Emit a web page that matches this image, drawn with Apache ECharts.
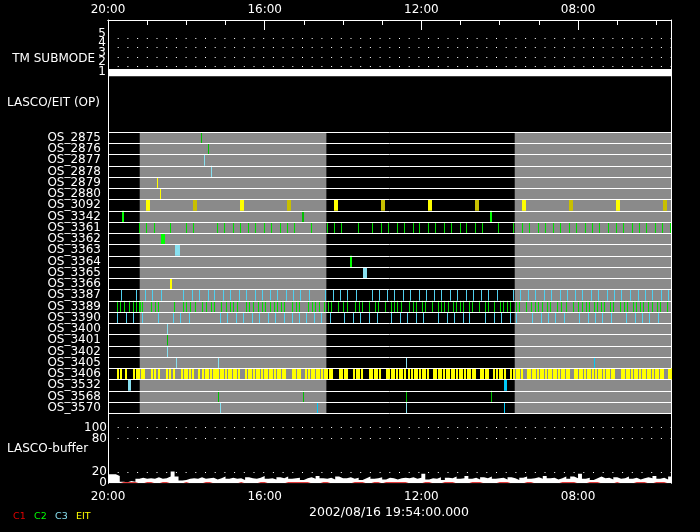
<!DOCTYPE html>
<html>
<head>
<meta charset="utf-8">
<script src="https://cdn.jsdelivr.net/npm/echarts@6.0.0/dist/echarts.min.js"></script>
<style>
html,body{margin:0;padding:0;background:#000;}
#chart{width:700px;height:532px;}
</style>
</head>
<body>
<div id="chart"></div>
<script>
// ---------- DATA (time = minutes before 2002/08/16 20:00, increasing to the right) ----------
const X_MAX = 862.4;
const MAJOR_STEP = 240;   // 4 h between labelled ticks
const MINOR_STEP = 60;    // 1 h minor ticks
const TM_LEVELS_ODD = [1, 3, 5];
const TM_LEVELS_EVEN = [2, 4];
const TM_SUBMODE = [[0, 862.4, 1]];   // [from, to, submode]
const BUF_LABELS_A = [0, 80];
const BUF_LABELS_B = [20, 100];
const BUF_GRID = [20, 80, 100];

const ROWS = ['OS_2875','OS_2876','OS_2877','OS_2878','OS_2879','OS_2880','OS_3092','OS_3342',
  'OS_3361','OS_3362','OS_3363','OS_3364','OS_3365','OS_3366','OS_3387','OS_3389','OS_3390',
  'OS_3400','OS_3401','OS_3402','OS_3405','OS_3406','OS_3532','OS_3568','OS_3570'];

// shaded periods [start, end]
const GRAY_START = [48.6, 623.0];
const GRAY_END = [334.5, 862.4];

// sparse rows: [start, durationMinutes, colourIndex]
const os2875 = [[142.5,0,1]];
const os2876 = [[154.7,0,1]];
const os2877 = [[147.1,0,2]];
const os2878 = [[159.3,0,2]];
const os2879 = [[75.1,0,4]];
const os2880 = [[79.7,0,4]];
const os3092 = [[59.3,6,4],[131.3,6,5],[203.3,6,4],[275.3,6,5],[347.3,6,4],[419.3,6,5],
  [491.3,6,4],[563.3,6,5],[635.2,6,4],[707.2,6,5],[779.2,6,4],[851.2,6,5]];
const os3342 = [[22.5,3,0],[298.2,3,1],[586.2,3,0]];
const os3362 = [[81.8,6,0]];
const os3363 = [[103.7,7.7,2]];
const os3364 = [[370.7,3,0]];
const os3365 = [[391.7,6,2]];
const os3366 = [[96.0,3,4]];
const os3400 = [[91.9,0,2]];
const os3401 = [[91.9,0,1]];
const os3402 = [[91.9,0,2]];
const os3405 = [[104.2,0,2],[170.0,0,2],[458.0,0,2],[744.5,0,3]];
const os3532 = [[31.7,4.6,2],[607.7,4.6,3]];
const os3568 = [[170.0,0,1],[298.7,0,1],[458.0,0,1],[586.7,0,1]];
const os3570 = [[171.6,0,2],[320.2,0,3],[458.0,0,2],[608.1,0,3]];

// dense rows: start times of short exposures
const os3361 = [47.5,59.7,70.5,95.0,119.5,131.7,167.0,179.2,191.5,202.2,214.5,226.7,239.0,251.2,263.5,274.2,
  286.4,311.0,335.5,346.2,358.4,383.0,405.9,418.2,430.4,442.7,454.9,467.2,477.9,490.2,502.4,514.7,526.9,
  539.2,549.9,562.2,574.4,598.9,621.9,634.2,646.4,658.7,670.9,681.7,693.9,706.2,718.4,730.7,741.4,753.6,
  765.9,778.2,790.4,802.7,813.4,825.6,837.9,850.1,860.9];
const os3387 = [21.4,44.4,56.7,68.9,81.2,116.4,130.2,140.9,153.2,163.9,176.2,188.4,200.7,212.9,225.2,235.9,
  248.2,260.4,272.7,284.9,295.6,307.9,332.4,344.7,356.9,367.6,379.9,404.4,416.6,428.9,439.6,451.9,464.1,
  476.4,488.6,499.4,511.6,523.9,536.1,548.4,560.6,571.4,583.6,595.9,620.4,632.6,643.4,655.6,667.9,680.1,
  692.4,703.1,715.4,727.6,739.9,752.1,764.4,775.1,787.3,799.6,811.9,824.1,834.8,847.1,859.3];
const os3389 = [13.8,18.4,26.0,32.2,38.3,44.4,47.5,50.5,53.6,65.9,72.0,78.1,102.6,114.9,121.0,127.1,133.3,
  145.5,151.6,157.8,163.9,174.6,180.8,186.9,193.0,199.1,211.4,217.5,223.6,229.8,235.9,242.0,248.2,254.3,
  260.4,266.5,269.6,281.9,288.0,294.1,306.4,312.5,318.6,324.7,330.9,337.0,343.1,353.8,360.0,366.1,378.4,
  384.5,390.6,401.3,409.0,413.6,425.8,433.5,438.1,444.2,450.3,461.1,468.7,473.3,481.0,485.6,497.8,505.5,
  510.1,516.2,522.3,528.5,533.1,540.7,545.3,553.0,557.6,569.8,577.5,582.1,592.8,600.5,605.1,612.7,617.3,
  625.0,629.6,641.8,648.0,654.1,660.2,666.3,672.5,677.1,689.3,695.4,701.6,713.8,720.0,726.1,732.2,738.3,
  744.5,749.1,756.7,761.3,769.0,773.6,785.8,791.9,796.5,804.2,808.8,816.4,821.0,828.7,833.3,841.0,845.6,857.8];
const os3390 = [15.3,27.6,39.8,52.1,76.6,99.6,111.8,124.1,171.6,183.8,196.1,208.3,220.6,232.8,245.1,257.3,
  269.6,281.9,294.1,303.3,315.6,327.8,340.1,363.0,375.3,387.5,399.8,412.1,435.0,447.3,459.5,471.8,484.0,
  507.0,519.3,531.5,543.8,554.5,579.0,591.3,603.5,615.8,626.5,651.0,663.3,675.5,686.2,698.5,723.0,735.3,
  747.5,758.2,770.5,795.0,807.3,819.5,830.2,842.5];
const os3406 = [15.3,19,27.5,39,43,47,51,55,67,71,77,89,93.5,101,113,117,121,125,129,139,145,150,152.5,157,
  161,165,168,172,176,180,184,188,192,196,200,211,215,219,223,227,231,235,239,243,247,251,255,259,263,267,
  271,282,286,290,294,303,307,311,315,319,323,327,331,335,339,343,354,358,362,366,376,380,384,388,400,404,
  408,412,416,426,430,434,438,442,446,450,454,461,465,469,473,477,481,485,489,498,502,506,510,514,518,522,
  526,530,534,538,542,546,550,554,558,561,570,574,578,582,591,595,599,603,607,617,621,625,629,633,642,646,
  650,654,658,662,666,670,674,678,682,686,690,694,698,702,706,714,718,722,726,730,734,738,742,747,751,755,
  759,763,767,771,775,786,790,794,798,802,806,810,814,818,822,826,830,834,838,842,846,850,858,861];
const DENSE_DURATION = {OS_3361: 0, OS_3387: 0, OS_3389: 0, OS_3390: 0, OS_3406: 2.3};

// LASCO buffer fill (%), one value per 6 minutes
const BUF_STEP = 6;
const bufTotal = [16,16,13,3,2,4,3,8,10,8,9,8, 11,8,9,12,21,12,5,6,8,9,8,11,
  8,9,10,7,9,12,8,10,8,9,6,11, 9,8,10,13,8,9,7,11,9,12,8,9,
  10,6,9,11,8,13,9,8,10,7,12,9, 9,11,8,10,6,9,12,8,9,11,7,10,
  9,7,9,10,9,11,8,10,17,7,9,8, 11,6,10,9,12,8,9,13,8,10,7,11,
  9,12,8,9,10,7,11,9,6,10,12,8, 9,11,8,13,9,10,7,9,12,8,12,9,
  17,8,10,6,9,12,9,10,7,11,8,9, 12,8,10,7,9,11,9,13,8,10,7,12];
const bufC1 = [0,0,0,1.8,1.8,1.8,1.8,0,0,1.8,1.8,0, 0,1.8,1.8,0,0,0,0,1.8,0,0,0,0,
  1.8,1.8,0,0,0,0,0,0,0,1.8,0,0, 0,0,1.8,1.8,0,0,0,0,0,1.8,1.8,1.8,
  1.8,1.8,1.8,0,0,0,1.8,1.8,0,0,0,0, 0,0,1.8,1.8,1.8,0,0,1.8,1.8,0,1.8,1.8,
  1.8,1.8,1.8,1.8,0,0,0,0,1.8,1.8,0,0, 0,1.8,1.8,1.8,0,0,0,0,1.8,1.8,1.8,0,
  0,0,0,1.8,1.8,1.8,0,0,0,0,1.8,1.8, 0,0,0,0,0,0,0,1.8,1.8,1.8,1.8,0,
  0,0,1.8,1.8,1.8,0,0,0,0,1.8,0,0, 0,0,1.8,1.8,1.8,0,0,1.8,1.8,1.8,0,0];

// ---------- STYLE ----------
const PALETTE = ['#00ff00','#00c000','#88e0f0','#00c8f8','#ffff00','#c8c000','#00dc00','#50d0f0'];
const DENSE_COLOR = {OS_3361: 6, OS_3387: 7, OS_3389: 6, OS_3390: 7, OS_3406: 4};
const ROW_EVENTS = {OS_2875: os2875, OS_2876: os2876, OS_2877: os2877, OS_2878: os2878, OS_2879: os2879,
  OS_2880: os2880, OS_3092: os3092, OS_3342: os3342, OS_3361: os3361, OS_3362: os3362, OS_3363: os3363,
  OS_3364: os3364, OS_3365: os3365, OS_3366: os3366, OS_3387: os3387, OS_3389: os3389, OS_3390: os3390,
  OS_3400: os3400, OS_3401: os3401, OS_3402: os3402, OS_3405: os3405, OS_3406: os3406, OS_3532: os3532,
  OS_3568: os3568, OS_3570: os3570};
const GRAY = '#8a8a8a';
const FONT = '"DejaVu Sans", sans-serif';
const TXT = {color: '#fff', fontFamily: FONT, fontSize: 12};
const TM_BAR_PX = 7.3;

// ---------- BUILD ----------
const events = [];
ROWS.forEach((name, i) => {
  (ROW_EVENTS[name] || []).forEach(ev => {
    if (typeof ev === 'number') events.push([ev, ev + DENSE_DURATION[name], i, DENSE_COLOR[name]]);
    else events.push([ev[0], ev[0] + ev[1], i, ev[2]]);
  });
});
const grayData = GRAY_START.map((s, i) => [s, GRAY_END[i], 0]);
const bufWhite = bufTotal.map((v, i) => [i * BUF_STEP, v]);
bufWhite.push([X_MAX, bufTotal[bufTotal.length - 1]]);
const bufRed = bufC1.map((v, i) => [i * BUF_STEP, v]);
bufRed.push([X_MAX, bufC1[bufC1.length - 1]]);

function fmtTime(v) {
  const m = ((Math.round(1200 - v) % 1440) + 1440) % 1440;
  const h = Math.floor(m / 60), mm = m % 60;
  return String(h).padStart(2, '0') + ':' + String(mm).padStart(2, '0');
}
const dotted = {color: '#fff', width: 1, type: [1, 8.7]};
function dotLines(vals) {
  return {silent: true, symbol: 'none', label: {show: false}, animation: false,
    lineStyle: dotted, data: vals.map(v => ({yAxis: v}))};
}
const hiddenX = gi => ({type: 'value', gridIndex: gi, min: 0, max: X_MAX, show: false, axisLine: {onZero: false}});
const LBL = {hideOverlap: false, showMinLabel: true, showMaxLabel: true};
function labelAxis(gi, min, max, vals, extra) {
  return {type: 'value', gridIndex: gi, position: 'left', min: min, max: max,
    axisLine: {show: false, onZero: false}, axisTick: {show: false}, splitLine: {show: false},
    axisLabel: Object.assign({customValues: vals}, extra, LBL, TXT)};
}

const L = 108, R = 29;
const option = {
  backgroundColor: '#000',
  animation: false,
  grid: [
    {left: L, right: R, top: 20, height: 463.3},
    {left: L, right: R, top: 20, height: 56.3},
    {left: L, right: R, top: 132, height: 281.3},
    {left: L, right: R, top: 427.5, height: 55.8}
  ],
  xAxis: [
    {type: 'value', gridIndex: 0, position: 'top', min: 0, max: X_MAX, interval: MAJOR_STEP, z: 8,
      axisLine: {show: true, onZero: false, lineStyle: {color: '#fff', width: 1}},
      axisTick: {show: true, inside: true, length: 10, lineStyle: {color: '#fff', width: 1}},
      axisLabel: Object.assign({formatter: fmtTime, margin: 4, showMaxLabel: false}, TXT),
      splitLine: {show: false}},
    {type: 'value', gridIndex: 0, position: 'top', min: 0, max: X_MAX, interval: MINOR_STEP, z: 8,
      axisLine: {show: true, onZero: false, lineStyle: {color: '#fff', width: 1}},
      axisTick: {show: true, inside: true, length: 5, lineStyle: {color: '#fff', width: 1}},
      axisLabel: {show: false}, splitLine: {show: false}},
    {type: 'value', gridIndex: 0, position: 'bottom', min: 0, max: X_MAX, interval: MAJOR_STEP,
      axisLine: {show: false, onZero: false}, axisTick: {show: false},
      axisLabel: Object.assign({formatter: fmtTime, margin: 8, showMaxLabel: false}, TXT),
      splitLine: {show: false}},
    hiddenX(1), hiddenX(2), hiddenX(3)
  ],
  yAxis: [
    {type: 'value', gridIndex: 0, position: 'left', min: 1, max: 2,
      axisLine: {show: true, onZero: false, lineStyle: {color: '#fff', width: 1}}, axisTick: {show: false},
      axisLabel: {show: false}, splitLine: {show: false}},
    {type: 'value', gridIndex: 0, position: 'right', min: 1, max: 2,
      axisLine: {show: true, onZero: false, lineStyle: {color: '#fff', width: 1}}, axisTick: {show: false},
      axisLabel: {show: false}, splitLine: {show: false}},
    labelAxis(1, 1, 6.88, TM_LEVELS_ODD, {margin: 2, verticalAlign: 'bottom', lineHeight: 9}),
    {type: 'category', gridIndex: 2, position: 'left', data: ROWS, inverse: true,
      axisLine: {show: false, onZero: false}, axisTick: {show: false}, splitLine: {show: false},
      axisLabel: Object.assign({margin: 7, interval: 0}, TXT)},
    {type: 'value', gridIndex: 2, position: 'left', min: 0, max: 25, interval: 1, z: 6,
      axisLine: {show: false, onZero: false}, axisTick: {show: false}, axisLabel: {show: false},
      splitLine: {show: true, lineStyle: {color: '#fff', width: 1}}},
    labelAxis(3, 0, 100, BUF_LABELS_A, {margin: 1}),
    labelAxis(1, 1, 6.88, TM_LEVELS_EVEN, {margin: 2, verticalAlign: 'bottom', lineHeight: 9}),
    labelAxis(3, 0, 100, BUF_LABELS_B, {margin: 1})
  ],
  series: [
    {type: 'custom', name: 'TM submode', xAxisIndex: 3, yAxisIndex: 2, data: TM_SUBMODE, z: 2,
      encode: {x: [0, 1], y: 2},
      renderItem: function (params, api) {
        const s = api.coord([api.value(0), api.value(2)]);
        const e = api.coord([api.value(1), api.value(2)]);
        return {type: 'rect', shape: {x: s[0], y: s[1] - TM_BAR_PX, width: e[0] - s[0], height: TM_BAR_PX},
          style: {fill: '#fff'}};
      }},
    {type: 'line', name: 'TM grid', xAxisIndex: 3, yAxisIndex: 2, data: [[0, 1], [X_MAX, 1]],
      symbol: 'none', lineStyle: {width: 0, opacity: 0}, z: 1, silent: true,
      markLine: dotLines([2, 3, 4, 5])},
    {type: 'custom', name: 'shade', xAxisIndex: 4, yAxisIndex: 3, data: grayData, z: 1,
      encode: {x: [0, 1], y: 2},
      renderItem: function (params, api) {
        const s = api.coord([api.value(0), 0]);
        const e = api.coord([api.value(1), 0]);
        const cs = params.coordSys;
        return {type: 'rect', shape: {x: s[0], y: cs.y, width: e[0] - s[0], height: cs.height},
          style: {fill: GRAY}};
      }},
    {type: 'custom', name: 'OS', xAxisIndex: 4, yAxisIndex: 3, data: events, z: 3,
      encode: {x: [0, 1], y: 2},
      renderItem: function (params, api) {
        const row = api.value(2);
        const s = api.coord([api.value(0), row]);
        const e = api.coord([api.value(1), row]);
        const h = api.size([0, 1])[1];
        const x0 = Math.floor(s[0]);
        const w = Math.max(1, Math.round(e[0] - s[0]));
        return {type: 'rect', shape: {x: x0, y: s[1] - h / 2, width: w, height: h},
          style: {fill: PALETTE[api.value(3)]}};
      }},
    {type: 'line', name: 'LASCO buffer', xAxisIndex: 5, yAxisIndex: 5, data: bufWhite, step: 'end',
      symbol: 'none', lineStyle: {width: 0, color: '#fff'}, areaStyle: {color: '#fff', opacity: 1}, z: 2,
      markLine: dotLines(BUF_GRID)},
    {type: 'line', name: 'C1 buffer', xAxisIndex: 5, yAxisIndex: 5, data: bufRed, step: 'end',
      symbol: 'none', lineStyle: {width: 0, color: '#e00000'}, areaStyle: {color: '#e00000', opacity: 1}, z: 3}
  ],
  graphic: [
    {type: 'text', x: 95, y: 58.5, style: {text: 'TM SUBMODE', fill: '#fff', font: '12px ' + FONT, align: 'right', verticalAlign: 'middle'}},
    {type: 'text', x: 7, y: 103, style: {text: 'LASCO/EIT (OP)', fill: '#fff', font: '12px ' + FONT, align: 'left', verticalAlign: 'middle'}},
    {type: 'text', x: 7, y: 449, style: {text: 'LASCO-buffer', fill: '#fff', font: '12px ' + FONT, align: 'left', verticalAlign: 'middle'}},
    {type: 'text', x: 389, y: 513, style: {text: '2002/08/16 19:54:00.000', fill: '#fff', font: '12.5px ' + FONT, align: 'center', verticalAlign: 'middle'}},
    {type: 'text', x: 13, y: 516.5, style: {text: 'C1', fill: '#e00000', font: '9.5px ' + FONT, align: 'left', verticalAlign: 'middle'}},
    {type: 'text', x: 34, y: 516.5, style: {text: 'C2', fill: '#00ff00', font: '9.5px ' + FONT, align: 'left', verticalAlign: 'middle'}},
    {type: 'text', x: 55, y: 516.5, style: {text: 'C3', fill: '#88e0f0', font: '9.5px ' + FONT, align: 'left', verticalAlign: 'middle'}},
    {type: 'text', x: 76, y: 516.5, style: {text: 'EIT', fill: '#ffff00', font: '9.5px ' + FONT, align: 'left', verticalAlign: 'middle'}}
  ]
};
const chart = echarts.init(document.getElementById('chart'), null, {renderer: 'canvas'});
chart.setOption(option);
</script>
</body>
</html>
